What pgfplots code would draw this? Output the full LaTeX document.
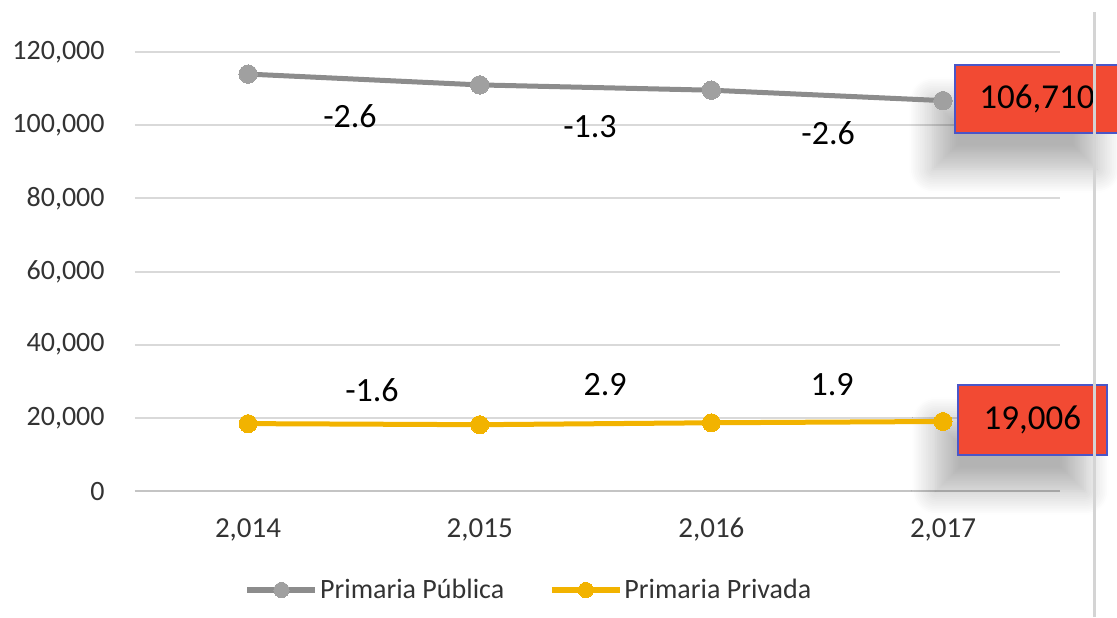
\documentclass[border=0pt]{standalone}
\usepackage{pgfplots}
\pgfplotsset{compat=1.18}
\usepackage{fontspec}
\setmainfont{Carlito}
\usetikzlibrary{shadows.blur}
\definecolor{gridc}{HTML}{D9D9D9}
\definecolor{axisc}{HTML}{C4C4C4}
\definecolor{pubc}{HTML}{8C8C8C}
\definecolor{pubm}{HTML}{A0A0A0}
\definecolor{privc}{HTML}{F2B300}
\definecolor{boxc}{HTML}{F24A33}
\definecolor{boxb}{HTML}{4A56C8}
\definecolor{lblc}{HTML}{333333}
\definecolor{vline}{HTML}{D4D4D4}
\begin{document}
\begin{tikzpicture}
\begin{axis}[
  at={(0,0)}, anchor=south west,
  scale only axis, width=462.5pt, height=219.5pt,
  xmin=-0.488, xmax=3.505, ymin=0, ymax=120000,
  clip=false,
  scaled y ticks=false,
  axis line style={draw=none},
  xtick={0,1,2,3},
  xticklabels={{2,014},{2,015},{2,016},{2,017}},
  ytick={0,20000,40000,60000,80000,100000,120000},
  yticklabels={0,{20,000},{40,000},{60,000},{80,000},{100,000},{120,000}},
  major tick length=0pt,
  ymajorgrids, grid style={gridc, line width=1pt},
  y tick label style={anchor=east, inner sep=0pt, xshift=-15pt, font=\fontsize{14}{16}\selectfont, text=lblc},
  x tick label style={anchor=center, inner sep=0pt, yshift=-19.5pt, font=\fontsize{14.5}{17}\selectfont, text=lblc},
  legend style={at={(0.426,-0.2255)}, anchor=center, draw=none, fill=none, legend columns=2,
    font=\fontsize{14}{16}\selectfont, text=lblc,
    /tikz/every even column/.append style={column sep=21.5pt},
    nodes={inner sep=1pt}},
  legend image code/.code={\draw[mark repeat=2,mark phase=2,#1,line width=2.6pt,mark size=3.8pt] plot coordinates {(0pt,0pt)(17pt,0pt)(34pt,0pt)};},
]
\draw[axisc, line width=1pt] (axis cs:-0.488,0) -- (axis cs:3.505,0);
\node[fill=boxc, draw=boxb, line width=0.6pt, minimum width=82pt, minimum height=34pt, inner sep=0pt,
  font=\fontsize{17.5}{20}\selectfont,
  blur shadow={shadow xshift=-11pt, shadow yshift=-18pt, shadow blur radius=12pt, shadow blur steps=14, shadow opacity=30}]
  at (axis cs:3.406,107153) {106,710};
\node[fill=boxc, draw=boxb, line width=0.6pt, minimum width=74.5pt, minimum height=35pt, inner sep=0pt,
  font=\fontsize{17.5}{20}\selectfont,
  blur shadow={shadow xshift=-11pt, shadow yshift=-18pt, shadow blur radius=12pt, shadow blur steps=14, shadow opacity=30}]
  at (axis cs:3.386,19408) {19,006};
\addplot[pubc, line width=2.5pt, mark=*, mark size=4.6pt, mark options={draw=pubm, fill=pubm, line width=0pt}]
  coordinates {(0,113965)(1,111002)(2,109560)(3,106710)};
\addlegendentry{Primaria Pública}
\addplot[privc, line width=2.5pt, mark=*, mark size=4.5pt, mark options={draw=privc, fill=privc, line width=0pt}]
  coordinates {(0,18421)(1,18126)(2,18652)(3,19006)};
\addlegendentry{Primaria Privada}
\begin{scope}[every node/.style={font=\fontsize{17}{20}\selectfont, text=black}]
\node at (axis cs:0.44,102506) {-2.6};
\node at (axis cs:1.476,99499) {-1.3};
\node at (axis cs:2.504,97859) {-2.6};
\node at (axis cs:0.535,27608) {-1.6};
\node at (axis cs:1.541,28975) {2.9};
\node at (axis cs:2.521,28975) {1.9};
\end{scope}
\end{axis}
\draw[vline, line width=1.5pt] (479.5pt,-63pt) -- (479.5pt,239.5pt);
\pgfresetboundingbox
\useasboundingbox (-67.5pt,-63pt) rectangle (491pt,245.5pt);
\end{tikzpicture}
\end{document}
